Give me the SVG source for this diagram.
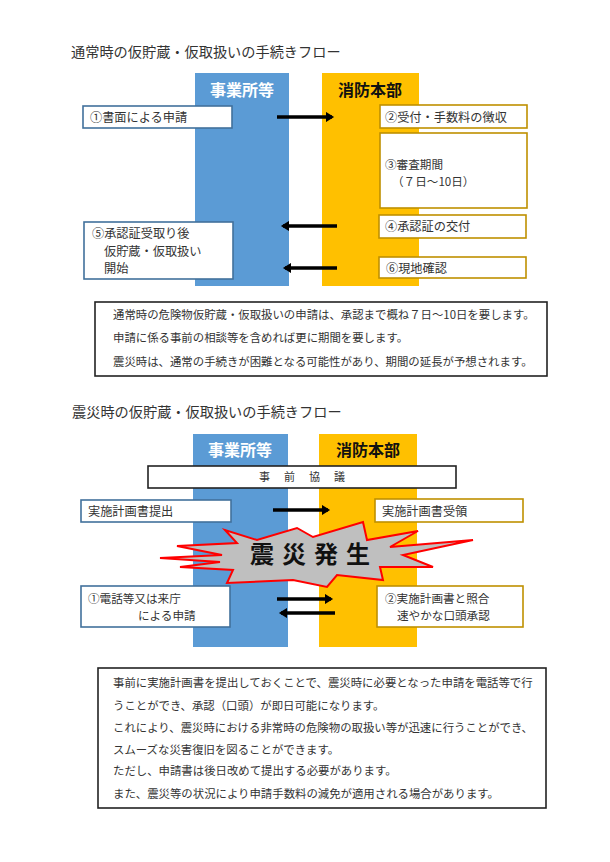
<svg xmlns="http://www.w3.org/2000/svg" width="610" height="862" viewBox="0 0 610 862">
<style>
text{font-family:"Noto Sans CJK JP","Noto Sans CJK SC",sans-serif;fill:#333}
.title{font-size:14.2px}
.hd{font-size:16px;font-weight:bold;text-anchor:middle}
.bx{font-size:12.2px}
.bs{font-size:11.6px}
.nt{font-size:11.4px}
.bb{fill:#fff;stroke:#41719c;stroke-width:1.6}
.yb{fill:#fff;stroke:#bf9000;stroke-width:1.6}
.kb{fill:#fff;stroke:#222;stroke-width:1.6}
.blue{fill:#5b9bd5}
.yel{fill:#ffc000}
.arr{stroke:#000;stroke-width:3.5;fill:none;marker-end:url(#ah)}
</style>
<defs>
<marker id="ah" viewBox="0 0 10 10" refX="6" refY="5" markerWidth="3" markerHeight="3" orient="auto" markerUnits="strokeWidth">
<path d="M0,0 L8,5 L0,10 Z" fill="#000"/>
</marker>
</defs>
<rect width="610" height="862" fill="#fff"/>

<!-- Section 1 -->
<text class="title" x="71" y="57">通常時の仮貯蔵・仮取扱いの手続きフロー</text>
<g id="col1-jigyo">
<rect class="blue" x="195" y="73" width="94" height="213"/>
<text class="hd" x="242" y="96" style="fill:#fff">事業所等</text>
</g>
<g id="col1-shobo">
<rect class="yel" x="322" y="73" width="97" height="213"/>
<text class="hd" x="370" y="96" style="fill:#111">消防本部</text>
</g>
<g id="n1-1">
<rect class="bb" x="83" y="106" width="149" height="22"/>
<text class="bx" x="90" y="121.5">①書面による申請</text>
</g>
<g id="n1-2">
<rect class="yb" x="380" y="105" width="147" height="23"/>
<text class="bx" x="385" y="121.5">②受付・手数料の徴収</text>
</g>
<g id="n1-3">
<rect class="yb" x="380" y="133" width="147" height="75"/>
<text class="bs" x="385" y="169">③審査期間</text>
<text class="bs" x="392" y="186">（７日～10日）</text>
</g>
<g id="n1-4">
<rect class="yb" x="379" y="215" width="147" height="23"/>
<text class="bx" x="385" y="231">④承認証の交付</text>
</g>
<g id="n1-5">
<rect class="bb" x="84" y="222" width="149" height="57"/>
<text class="bx" x="92" y="238">⑤承認証受取り後</text>
<text class="bx" x="104" y="256">仮貯蔵・仮取扱い</text>
<text class="bx" x="104" y="273">開始</text>
</g>
<g id="n1-6">
<rect class="yb" x="379" y="257" width="147" height="21"/>
<text class="bx" x="386" y="272.5">⑥現地確認</text>
</g>
<g id="connectors-1">
<line class="arr" x1="277" y1="117" x2="332" y2="117"/>
<line class="arr" x1="337" y1="226" x2="283" y2="226"/>
<line class="arr" x1="337" y1="268" x2="285" y2="268"/>
</g>
<g id="note1">
<rect class="kb" x="95" y="302" width="452" height="74"/>
<text class="nt" x="113" y="318.5">通常時の危険物仮貯蔵・仮取扱いの申請は、承認まで概ね７日～10日を要します。</text>
<text class="nt" x="113" y="341.5">申請に係る事前の相談等を含めれば更に期間を要します。</text>
<text class="nt" x="113" y="365.5">震災時は、通常の手続きが困難となる可能性があり、期間の延長が予想されます。</text>
</g>

<!-- Section 2 -->
<text class="title" x="72" y="417">震災時の仮貯蔵・仮取扱いの手続きフロー</text>
<g id="col2-jigyo">
<rect class="blue" x="193" y="434" width="95" height="213"/>
<text class="hd" x="240" y="456" style="fill:#fff">事業所等</text>
</g>
<g id="col2-shobo">
<rect class="yel" x="319" y="434" width="98" height="213"/>
<text class="hd" x="368" y="456" style="fill:#111">消防本部</text>
</g>
<g id="n2-kyogi">
<rect class="kb" x="148" y="466" width="308" height="22"/>
<text x="302" y="481" text-anchor="middle" style="font-size:11px" textLength="86" lengthAdjust="spacing">事　前　協　議</text>
</g>
<g id="n2-teishutsu">
<rect class="bb" x="81" y="500" width="150" height="22"/>
<text class="bx" x="88" y="515.5">実施計画書提出</text>
</g>
<g id="n2-juryo">
<rect class="yb" x="375" y="499" width="148" height="23"/>
<text class="bx" x="382" y="515.5">実施計画書受領</text>
</g>
<g id="n2-shinsai">
<polygon points="160,558 222,555 177,546 237,543 225,530 257,540 297,528 313,537 363,522 367,540 418,531 390,547 473,540 403,555 433,567 380,567 383,580 337,575 327,587 293,580 227,583 233,570 180,567 220,562" fill="#bfbfbf" stroke="#ff0000" stroke-width="2" stroke-linejoin="miter"/>
<text x="310" y="563" text-anchor="middle" style="font-size:24px;font-weight:bold;fill:#111" textLength="120" lengthAdjust="spacing">震 災 発 生</text>
</g>
<g id="n2-1">
<rect class="bb" x="81" y="586" width="149" height="41"/>
<text class="bs" x="88" y="602.5">①電話等又は来庁</text>
<text class="bs" x="138" y="620">による申請</text>
</g>
<g id="n2-2">
<rect class="yb" x="377" y="586" width="146" height="41"/>
<text class="bs" x="385" y="602.5">②実施計画書と照合</text>
<text class="bs" x="397" y="620">速やかな口頭承認</text>
</g>
<g id="connectors-2">
<line class="arr" x1="273" y1="510" x2="328" y2="510"/>
<line class="arr" x1="277" y1="599" x2="331" y2="599"/>
<line class="arr" x1="335" y1="613" x2="281" y2="613"/>
</g>
<g id="note2">
<rect class="kb" x="98" y="668" width="448" height="140"/>
<text class="nt" x="113" y="686.5">事前に実施計画書を提出しておくことで、震災時に必要となった申請を電話等で行</text>
<text class="nt" x="113" y="709.5">うことができ、承認（口頭）が即日可能になります。</text>
<text class="nt" x="113" y="731.5">これにより、震災時における非常時の危険物の取扱い等が迅速に行うことができ、</text>
<text class="nt" x="113" y="753.5">スムーズな災害復旧を図ることができます。</text>
<text class="nt" x="113" y="774.5">ただし、申請書は後日改めて提出する必要があります。</text>
<text class="nt" x="113" y="797.5">また、震災等の状況により申請手数料の減免が適用される場合があります。</text>
</g>
</svg>
